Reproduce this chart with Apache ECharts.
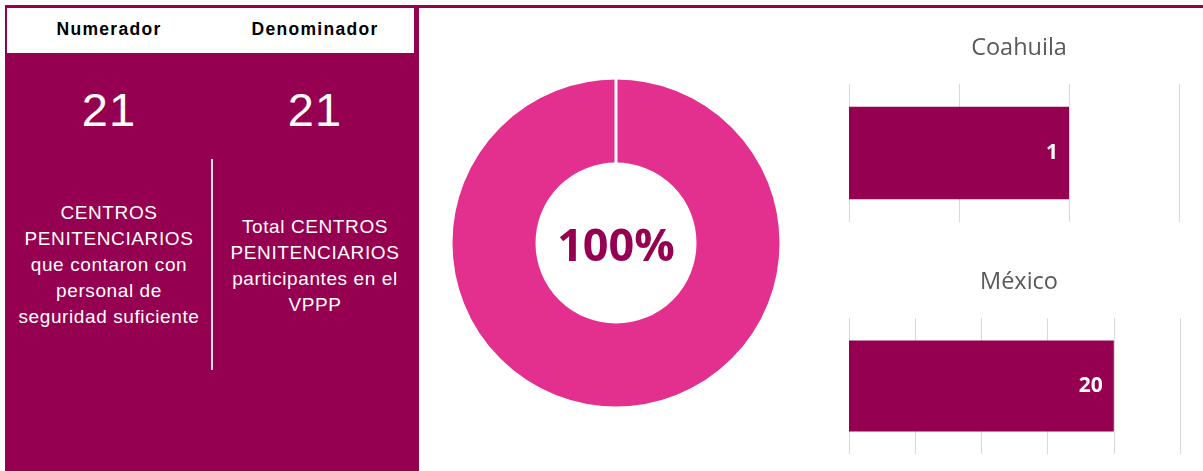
<!DOCTYPE html>
<html>
<head>
<meta charset="utf-8">
<script src="https://cdn.jsdelivr.net/npm/echarts@6/dist/echarts.min.js"></script>
<style>
  html, body { margin: 0; padding: 0; background: #fff; }
  #wrap { position: relative; width: 1203px; height: 471px; overflow: hidden; }
  #chart { position: absolute; left: 0; top: 0; width: 1203px; height: 471px; }
  .topline { position: absolute; left: 5px; top: 5px; width: 1198px; height: 2.5px; background: #960050; }
  .panel { position: absolute; left: 5px; top: 5px; width: 414px; height: 466px; background: #960050; }
  .panel-head { position: absolute; left: 7px; top: 7px; width: 407px; height: 46px; background: #fff; }
  .cell { position: absolute; text-align: center; font-family: "Liberation Sans", Arial, sans-serif; }
  .head-txt { top: 18px; font-size: 17.5px; font-weight: bold; color: #000; line-height: 22px; letter-spacing: 1.3px; }
  .num-txt { top: 86px; font-size: 47px; color: #fff; line-height: 47px; letter-spacing: 1px; }
  .desc-txt { font-size: 19px; color: #fff; line-height: 26px; letter-spacing: 0.6px; }
  .divider { position: absolute; left: 211px; top: 159px; width: 2px; height: 211px; background: #e0e0e0; }
</style>
</head>
<body>
<div id="wrap">
  <div id="chart"></div>
  <div class="panel"></div>
  <div class="panel-head"></div>
  <div class="topline"></div>
  <div class="divider"></div>
  <div id="cells"></div>
</div>
<script>
// ── data ──
const headers      = ['Numerador', 'Denominador'];
const counts       = [21, 21];            // numerador, denominador
const descriptions = [
  ['CENTROS', 'PENITENCIARIOS', 'que contaron con', 'personal de', 'seguridad suficiente'],
  ['Total CENTROS', 'PENITENCIARIOS', 'participantes en el', 'VPPP'],
]
const states       = ['Coahuila', 'México'];
const stateValues  = [1, 20];
const axisMax      = [1.5, 25];
const axisStep     = [0.5, 5];

const DARK  = '#960050';
const PINK  = '#e3308f';
const GREY  = '#595959';
const GRID  = '#d9d9d9';

// ── left panel (plain html) ──
const cellsEl = document.getElementById('cells');
const colLeft = [6, 212], colWidth = 206;
const descTop = [200, 214];
headers.forEach((h, i) => {
  cellsEl.insertAdjacentHTML('beforeend',
    `<div class="cell head-txt" style="left:${colLeft[i]}px;width:${colWidth}px">${h}</div>` +
    `<div class="cell num-txt" style="left:${colLeft[i]}px;width:${colWidth}px">${counts[i]}</div>` +
    `<div class="cell desc-txt" style="left:${colLeft[i]}px;width:${colWidth}px;top:${descTop[i]}px">${descriptions[i].join('<br>')}</div>`)
})

// ── chart ──
const pct = Math.round(counts[0] / counts[1] * 100) + '%';
const chart = echarts.init(document.getElementById('chart'));

const gridPos = [
  { left: 849, top: 84, width: 330, height: 138 },
  { left: 849, top: 318, width: 331, height: 136 },
]
const titleTop = [31, 265];

chart.setOption({
  animation: false,
  title: states.map((s, i) => ({
    text: s, left: 1014, top: titleTop[i], textAlign: 'center',
    textStyle: { fontFamily: 'Open Sans', fontSize: 23.5, fontWeight: 'normal', color: GREY },
  })),
  grid: gridPos,
  xAxis: states.map((s, i) => ({
    type: 'value', gridIndex: i, min: 0, max: axisMax[i], interval: axisStep[i],
    axisLabel: { show: false }, axisLine: { show: false }, axisTick: { show: false },
    splitLine: { lineStyle: { color: GRID, width: 1 } },
  })),
  yAxis: states.map((s, i) => ({
    type: 'category', gridIndex: i, data: [s], show: false,
  })),
  series: [
    {
      type: 'pie',
      center: [616, 243],
      radius: [79, 165],
      silent: true,
      data: [
        { value: counts[0] },
        { value: counts[1] - counts[0] },
      ],
      itemStyle: { color: PINK, borderColor: '#fff', borderWidth: 3 },
      label: {
        show: true, position: 'center', offset: [0, 5],
        formatter: p => p.dataIndex === 0 ? pct : '',
        fontFamily: 'Open Sans', fontSize: 45, fontWeight: 'bold', color: DARK,
      },
      labelLine: { show: false },
      emphasis: { disabled: true },
    },
    ...states.map((s, i) => ({
      type: 'bar', xAxisIndex: i, yAxisIndex: i,
      data: [stateValues[i]],
      barWidth: '67%',
      itemStyle: { color: DARK },
      label: {
        show: true, position: 'insideRight', distance: 11,
        fontFamily: 'Open Sans', fontSize: 21, fontWeight: 'bold', color: '#fff',
      },
    })),
  ],
})
</script>
</body>
</html>
